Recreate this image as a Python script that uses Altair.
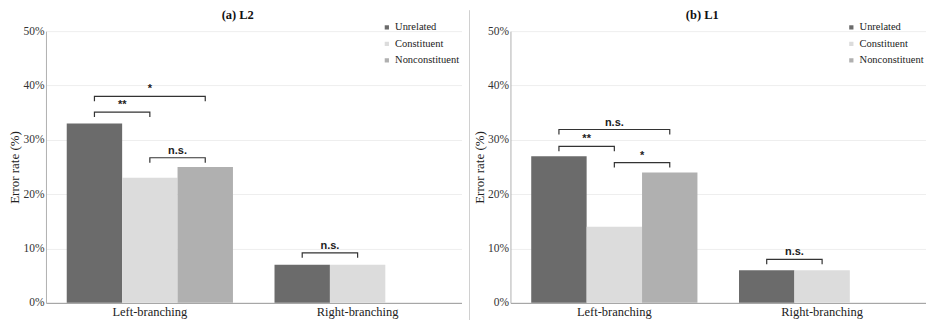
import altair as alt
import pandas as pd

conditions = ["Unrelated", "Constituent", "Nonconstituent"]
branches = ["Left-branching", "Right-branching"]
colors = ["#6b6b6b", "#dcdcdc", "#b0b0b0"]

# (a) L2 error rates (%)
l2_left = [33, 23, 25]
l2_right = [7, 7]
# (b) L1 error rates (%)
l1_left = [27, 14, 24]
l1_right = [6, 6]

# significance brackets: branch, from, to, label, level (%)
l2_brackets = [
    ("Left-branching", "Unrelated", "Nonconstituent", "*", 38.0),
    ("Left-branching", "Unrelated", "Constituent", "**", 35.1),
    ("Left-branching", "Constituent", "Nonconstituent", "n.s.", 26.7),
    ("Right-branching", "Unrelated", "Constituent", "n.s.", 9.2),
]
l1_brackets = [
    ("Left-branching", "Unrelated", "Nonconstituent", "n.s.", 31.9),
    ("Left-branching", "Unrelated", "Constituent", "**", 28.8),
    ("Left-branching", "Constituent", "Nonconstituent", "*", 25.8),
    ("Right-branching", "Unrelated", "Constituent", "n.s.", 8.0),
]
tick_drop = 0.9

offset_keys = ["Unrelated", "Unrelated|Constituent", "Constituent",
               "Constituent|Nonconstituent", "Nonconstituent"]

W, H = 416, 272
FONT = "Liberation Serif"


def bar_frame(left, right):
    rows = []
    for c, v in zip(conditions, left):
        rows.append({"branch": branches[0], "condition": c, "rate": v})
    for c, v in zip(conditions, right):
        rows.append({"branch": branches[1], "condition": c, "rate": v})
    return pd.DataFrame(rows)


def bracket_frames(brackets):
    path, labels = [], []
    for i, (br, a, b, lab, lev) in enumerate(brackets):
        pts = [(a, lev - tick_drop), (a, lev), (b, lev), (b, lev - tick_drop)]
        for j, (k, y) in enumerate(pts):
            path.append({"id": i, "pt": j, "branch": br, "key": k, "y": y})
        ia, ib = conditions.index(a), conditions.index(b)
        mid = "Constituent" if abs(ia - ib) == 2 else f"{a}|{b}"
        labels.append({"branch": br, "key": mid, "y": lev, "label": lab})
    return pd.DataFrame(path), pd.DataFrame(labels)


xscale = alt.Scale(type="band", domain=branches, paddingInner=0.2, paddingOuter=0.1)
yscale = alt.Scale(domain=[0, 50], nice=False)
pscale = alt.Scale(type="point", domain=offset_keys, padding=1)


def panel(title, left, right, brackets):
    bars_df = bar_frame(left, right)
    path_df, lab_df = bracket_frames(brackets)
    bars = alt.Chart(bars_df).mark_bar().encode(
        x=alt.X("branch:N", scale=xscale,
                axis=alt.Axis(title=None, labelAngle=0, ticks=False, labelFont=FONT,
                              labelFontSize=12.5, labelColor="#222", labelPadding=3,
                              domainColor="#9a9a9a", grid=False)),
        xOffset=alt.XOffset("condition:N", scale=alt.Scale(domain=conditions)),
        y=alt.Y("rate:Q", scale=yscale,
                axis=alt.Axis(values=[0, 10, 20, 30, 40, 50], labelExpr="datum.value + '%'",
                              title="Error rate (%)", titleFont=FONT, titleFontSize=13,
                              titleFontWeight="normal", titleColor="#222", titlePadding=1,
                              labelFont=FONT, labelFontSize=11.5, labelColor="#333",
                              labelPadding=2, ticks=False, domainColor="#b0b0b0",
                              gridColor="#eeeeee")),
        color=alt.Color("condition:N", scale=alt.Scale(domain=conditions, range=colors),
                        legend=alt.Legend(title=None, orient="none", legendX=W - 80,
                                          legendY=-9, symbolType="square", symbolSize=18,
                                          symbolStrokeWidth=0, labelFont=FONT,
                                          labelFontSize=10.5, labelColor="#222",
                                          rowPadding=5.5, padding=0, labelOffset=3)),
    )
    lines = alt.Chart(path_df).mark_line(color="#333", strokeWidth=1.2).encode(
        x=alt.X("branch:N", scale=xscale),
        xOffset=alt.XOffset("key:N", scale=pscale),
        y=alt.Y("y:Q", scale=yscale),
        detail="id:N",
        order="pt:Q",
    )
    texts = alt.Chart(lab_df).mark_text(font="Liberation Sans", fontWeight="bold",
                                        fontSize=11, baseline="bottom", dy=-2,
                                        color="#222").encode(
        x=alt.X("branch:N", scale=xscale),
        xOffset=alt.XOffset("key:N", scale=pscale),
        y=alt.Y("y:Q", scale=yscale),
        text="label:N",
    )
    return alt.layer(bars, lines, texts).resolve_scale(xOffset="independent").properties(
        width=W, height=H,
        title=alt.TitleParams(title, font=FONT, fontSize=12.5, fontWeight="bold",
                              color="#111", anchor="middle", frame="group", dx=-16,
                              offset=1))


divider = alt.Chart(pd.DataFrame({"d": [0]})).mark_rule(color="#d0d0d0", strokeWidth=1).encode(
    x=alt.value(8), y=alt.value(-21), y2=alt.value(H + 20)
).properties(width=11, height=H)

chart = alt.hconcat(
    panel("(a) L2", l2_left, l2_right, l2_brackets),
    divider,
    panel("(b) L1", l1_left, l1_right, l1_brackets),
    spacing=0,
).resolve_scale(color="independent").resolve_legend(color="independent").properties(
    padding=0
).configure_view(stroke=None)

chart.save("out.html", embed_options={"renderer": "svg", "actions": False})
